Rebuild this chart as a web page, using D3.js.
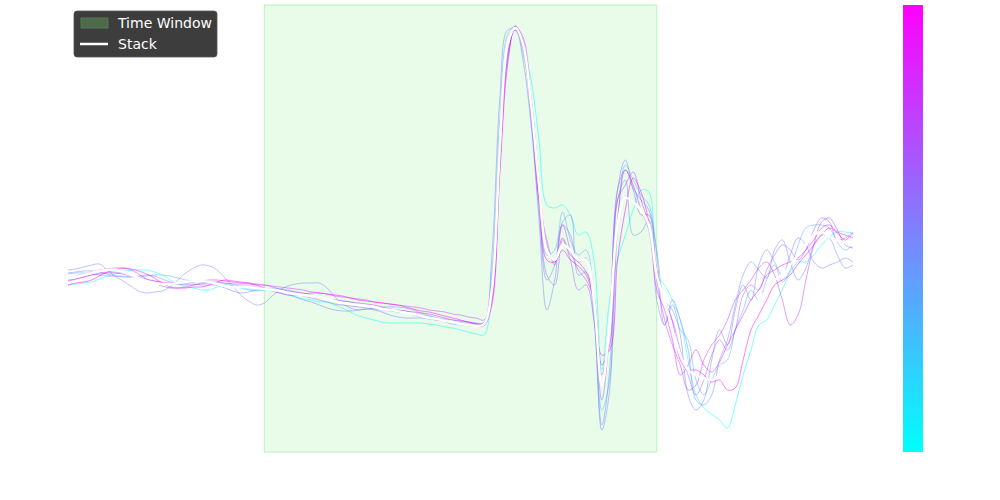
<!DOCTYPE html>
<html>
<head>
<meta charset="utf-8">
<script src="https://cdn.jsdelivr.net/npm/d3@7"></script>
<style>
  body { margin: 0; background: #fff; }
  svg { display: block; font-family: "DejaVu Sans", sans-serif; }
</style>
</head>
<body>
<div id="chart-wrapper"></div>
<script>
// sample index (time) axis
const times = d3.range(0, 101);

// time window limits
const windowStart = 25;
const windowEnd = 75;

// colour value (0..1 on the cool map) of each trace
const traceColorVals = [0, 0.3, 0.45, 0.5, 0.6, 0.75, 0.85, 1.0];

const traceA = [-0.05,-0.04,-0.03,-0.02,0.01,0.04,0.06,0.08,0.10,0.10,0.10,0.08,0.05,0.00,-0.04,-0.07,-0.08,-0.10,-0.10,-0.07,-0.04,-0.04,-0.07,-0.09,-0.10,-0.10,-0.11,-0.13,-0.15,-0.17,-0.19,-0.20,-0.22,-0.22,-0.25,-0.28,-0.32,-0.36,-0.38,-0.40,-0.42,-0.43,-0.43,-0.43,-0.43,-0.43,-0.44,-0.45,-0.47,-0.48,-0.50,-0.52,-0.54,-0.55,-0.10,1.35,2.22,2.53,2.32,2.00,1.40,0.75,0.72,0.75,0.65,0.45,0.48,0.20,-0.90,-0.20,0.20,0.45,0.70,0.90,0.88,0.05,-0.05,-0.20,-0.40,-0.80,-1.15,-1.28,-1.34,-1.40,-1.48,-1.25,-0.95,-0.70,-0.45,-0.40,-0.25,-0.10,0.08,0.18,0.18,0.25,0.35,0.43,0.48,0.48,0.47];
const traceB = [0.06,0.07,0.07,0.06,0.05,0.04,0.04,0.04,0.03,0.03,0.04,0.05,0.05,0.04,0.02,0.00,-0.01,-0.02,-0.03,-0.03,-0.04,-0.06,-0.08,-0.10,-0.11,-0.10,-0.09,-0.09,-0.10,-0.12,-0.14,-0.16,-0.18,-0.19,-0.20,-0.21,-0.22,-0.24,-0.26,-0.28,-0.29,-0.30,-0.30,-0.31,-0.33,-0.35,-0.36,-0.38,-0.39,-0.40,-0.41,-0.42,-0.44,-0.42,0.10,1.60,2.45,2.54,2.25,1.80,1.00,0.25,0.30,0.68,0.40,0.25,0.30,-0.20,-1.30,-1.00,0.50,1.15,1.00,0.85,0.75,0.30,-0.20,-0.30,-0.50,-0.60,-1.00,-1.15,-1.00,-0.85,-0.80,-0.50,-0.30,-0.10,-0.20,0.00,0.15,-0.02,0.10,0.35,0.52,0.55,0.55,0.52,0.38,0.30,0.35];
const traceC = [0.10,0.11,0.13,0.15,0.16,0.10,0.04,-0.01,-0.06,-0.11,-0.13,-0.12,-0.11,-0.07,0.00,0.07,0.12,0.15,0.14,0.10,0.02,-0.06,-0.15,-0.21,-0.25,-0.23,-0.16,-0.10,-0.06,-0.04,-0.03,-0.03,-0.03,-0.08,-0.17,-0.24,-0.28,-0.30,-0.29,-0.28,-0.27,-0.27,-0.27,-0.28,-0.30,-0.33,-0.36,-0.38,-0.40,-0.42,-0.43,-0.43,-0.44,-0.44,0.00,1.40,2.35,2.50,2.30,1.60,0.60,-0.30,0.00,0.58,0.65,0.05,0.08,-0.40,-1.45,-0.90,0.80,1.00,0.45,0.48,0.60,-0.20,-0.45,-0.20,-0.40,-0.70,-1.20,-1.25,-1.15,-0.80,-0.60,-0.25,0.05,0.18,0.10,0.02,0.30,0.40,0.18,0.00,0.12,0.35,0.45,0.42,0.25,0.12,0.15];
const traceG = [0.07,0.08,0.09,0.09,0.08,0.06,0.04,0.03,0.03,0.04,0.05,0.04,0.01,-0.02,-0.04,-0.05,-0.05,-0.04,-0.03,-0.05,-0.08,-0.11,-0.13,-0.12,-0.10,-0.09,-0.10,-0.12,-0.14,-0.17,-0.20,-0.22,-0.25,-0.28,-0.30,-0.31,-0.31,-0.30,-0.29,-0.30,-0.32,-0.35,-0.37,-0.38,-0.38,-0.38,-0.39,-0.40,-0.42,-0.44,-0.45,-0.46,-0.46,-0.43,0.25,1.80,2.50,2.50,2.18,1.55,0.70,0.00,0.15,0.55,0.45,0.18,0.22,-0.30,-1.50,-1.10,0.90,1.20,0.92,0.80,0.70,0.25,-0.45,-0.25,-0.55,-1.15,-1.30,-1.20,-0.80,-0.50,-0.65,-0.30,-0.05,-0.20,0.15,0.30,0.18,0.05,0.25,0.42,0.35,0.18,0.12,0.15,0.18,0.22,0.18];
const traceD = [0.00,0.01,0.03,0.05,0.07,0.08,0.08,0.07,0.05,0.03,0.01,-0.01,-0.03,-0.04,-0.04,-0.04,-0.04,-0.05,-0.05,-0.05,-0.06,-0.06,-0.06,-0.06,-0.07,-0.08,-0.10,-0.11,-0.13,-0.14,-0.16,-0.18,-0.20,-0.22,-0.24,-0.25,-0.26,-0.27,-0.28,-0.29,-0.30,-0.31,-0.32,-0.33,-0.35,-0.37,-0.39,-0.40,-0.41,-0.42,-0.43,-0.45,-0.46,-0.46,-0.20,1.15,2.25,2.52,2.38,1.70,0.80,0.05,-0.05,0.40,0.20,-0.10,-0.05,-0.40,-1.20,-0.50,0.90,1.10,0.90,0.65,0.65,0.10,-0.20,-0.40,-0.70,-0.95,-1.15,-1.00,-0.75,-0.60,-0.70,-0.50,-0.15,-0.05,-0.10,0.10,0.25,0.35,0.30,0.20,0.30,0.50,0.62,0.58,0.40,0.42,0.48];
const traceE = [0.02,0.04,0.06,0.08,0.10,0.11,0.12,0.12,0.10,0.06,0.01,-0.03,-0.06,-0.08,-0.08,-0.07,-0.05,-0.03,-0.02,-0.02,-0.03,-0.04,-0.04,-0.04,-0.05,-0.05,-0.06,-0.07,-0.08,-0.09,-0.10,-0.12,-0.13,-0.14,-0.16,-0.17,-0.18,-0.19,-0.20,-0.22,-0.23,-0.24,-0.25,-0.26,-0.27,-0.28,-0.30,-0.31,-0.32,-0.34,-0.35,-0.37,-0.38,-0.40,-0.15,1.20,2.28,2.50,2.32,1.65,0.80,0.40,0.15,0.55,0.30,0.10,0.00,-0.20,-0.95,-0.40,0.80,0.95,1.08,0.80,0.55,0.00,-0.40,-0.65,-0.85,-1.10,-1.05,-0.80,-0.65,-0.55,-0.40,-0.20,-0.10,0.00,0.12,0.18,0.05,-0.20,-0.45,-0.35,0.00,0.35,0.58,0.62,0.50,0.35,0.32];
const traceH = [-0.01,0.01,0.03,0.05,0.06,0.07,0.07,0.06,0.04,0.02,0.00,-0.01,-0.02,-0.03,-0.03,-0.03,-0.02,-0.01,0.00,0.00,-0.01,-0.02,-0.03,-0.03,-0.04,-0.05,-0.07,-0.09,-0.11,-0.12,-0.13,-0.15,-0.17,-0.19,-0.20,-0.21,-0.22,-0.23,-0.24,-0.25,-0.27,-0.29,-0.30,-0.31,-0.32,-0.33,-0.34,-0.36,-0.38,-0.40,-0.41,-0.42,-0.43,-0.43,-0.20,1.10,2.20,2.53,2.42,1.82,1.00,0.35,0.18,0.42,0.25,0.18,0.08,-0.15,-0.85,-0.65,0.60,1.10,0.95,0.70,0.50,-0.10,-0.30,-0.60,-0.95,-0.85,-0.70,-0.85,-0.92,-0.82,-0.65,-0.50,-0.35,-0.20,-0.10,0.05,0.10,0.15,0.18,0.22,0.30,0.40,0.52,0.55,0.48,0.45,0.42];
const traceF = [-0.05,-0.03,-0.02,0.00,0.04,0.08,0.10,0.12,0.11,0.09,0.06,0.02,-0.03,-0.07,-0.08,-0.08,-0.07,-0.07,-0.05,-0.02,0.00,-0.01,-0.02,-0.03,-0.05,-0.08,-0.11,-0.13,-0.15,-0.15,-0.14,-0.13,-0.13,-0.14,-0.15,-0.16,-0.18,-0.20,-0.21,-0.22,-0.23,-0.24,-0.25,-0.27,-0.29,-0.31,-0.32,-0.34,-0.36,-0.38,-0.40,-0.42,-0.44,-0.45,-0.25,1.05,2.15,2.54,2.38,1.75,0.80,0.20,0.18,0.30,0.20,0.14,0.05,-0.20,-0.75,-0.70,0.20,0.70,1.02,0.88,0.58,0.10,-0.20,-0.42,-0.80,-0.90,-0.90,-0.95,-1.02,-1.00,-1.10,-1.08,-0.80,-0.50,-0.35,-0.20,-0.05,0.00,0.05,0.16,0.25,0.35,0.45,0.52,0.47,0.40,0.47];

// averaged stack trace
const stack = [0.02,0.03,0.05,0.07,0.09,0.10,0.10,0.08,0.05,0.02,-0.01,-0.03,-0.04,-0.04,-0.03,-0.02,-0.01,-0.01,-0.02,-0.04,-0.06,-0.07,-0.07,-0.07,-0.08,-0.09,-0.10,-0.11,-0.13,-0.14,-0.15,-0.16,-0.17,-0.19,-0.21,-0.23,-0.24,-0.25,-0.26,-0.27,-0.29,-0.30,-0.31,-0.33,-0.34,-0.36,-0.38,-0.39,-0.41,-0.42,-0.44,-0.45,-0.46,-0.44,-0.10,1.30,2.35,2.52,2.35,1.75,0.95,0.30,0.20,0.35,0.30,0.20,0.20,-0.20,-1.05,-0.45,0.55,0.82,0.78,0.70,0.55,0.05,-0.20,-0.50,-0.75,-0.90,-0.95,-0.98,-1.00,-0.95,-0.85,-0.65,-0.50,-0.30,-0.20,-0.10,0.00,0.05,0.15,0.25,0.35,0.45,0.48,0.43,0.40,0.37,0.35];

const traces = [traceA, traceB, traceC, traceG, traceD, traceE, traceH, traceF];

const legendLabels = ["Time Window", "Stack"];

const initChart = () => {
  const width = 1000, height = 500;
  const plot = { left: 68, right: 853, top: 5, bottom: 452 };

  const svg = d3.select("#chart-wrapper").append("svg")
    .attr("width", width)
    .attr("height", height);

  const xScale = d3.scaleLinear()
    .domain([0, 100])
    .range([plot.left, plot.right]);

  const yScale = d3.scaleLinear()
    .domain([-1.72, 2.75])
    .range([plot.bottom, plot.top]);

  const cool = d3.interpolateRgb("#00ffff", "#ff00ff");

  // time window patch
  svg.append("rect")
    .attr("x", xScale(windowStart))
    .attr("y", plot.top)
    .attr("width", xScale(windowEnd) - xScale(windowStart))
    .attr("height", plot.bottom - plot.top)
    .attr("fill", "lightgreen")
    .attr("fill-opacity", 0.2)
    .attr("stroke", "lightgreen")
    .attr("stroke-opacity", 0.6)
    .attr("stroke-width", 1);

  const line = d3.line()
    .x((d, i) => xScale(times[i]))
    .y(d => yScale(d))
    .curve(d3.curveCatmullRom.alpha(0.5));

  svg.append("g")
    .selectAll("path")
    .data(traces)
    .enter()
    .append("path")
    .attr("d", d => line(d))
    .attr("fill", "none")
    .attr("stroke", (d, i) => cool(traceColorVals[i]))
    .attr("stroke-opacity", 0.5)
    .attr("stroke-width", 1);

  svg.append("path")
    .attr("d", line(stack))
    .attr("fill", "none")
    .attr("stroke", "#fff")
    .attr("stroke-width", 2.5);

  // colorbar
  const defs = svg.append("defs");
  const grad = defs.append("linearGradient")
    .attr("id", "cbar")
    .attr("x1", 0).attr("y1", 1).attr("x2", 0).attr("y2", 0);
  grad.append("stop").attr("offset", "0%").attr("stop-color", cool(0));
  grad.append("stop").attr("offset", "100%").attr("stop-color", cool(1));

  svg.append("rect")
    .attr("x", 903)
    .attr("y", plot.top)
    .attr("width", 20)
    .attr("height", plot.bottom - plot.top)
    .attr("fill", "url(#cbar)");

  // legend
  const legend = svg.append("g").attr("transform", "translate(74,11)");
  legend.append("rect")
    .attr("width", 143)
    .attr("height", 46)
    .attr("rx", 3)
    .attr("fill", "#333333")
    .attr("fill-opacity", 0.95)
    .attr("stroke", "#555")
    .attr("stroke-width", 0.8);

  legend.append("rect")
    .attr("x", 7).attr("y", 7)
    .attr("width", 27).attr("height", 10)
    .attr("fill", "#4a6a4a")
    .attr("stroke", "#5a7f5a")
    .attr("stroke-width", 0.8);

  legend.append("line")
    .attr("x1", 6).attr("x2", 34)
    .attr("y1", 33).attr("y2", 33)
    .attr("stroke", "#fff")
    .attr("stroke-width", 2.5);

  legend.selectAll("text")
    .data(legendLabels)
    .enter()
    .append("text")
    .attr("x", 44)
    .attr("y", (d, i) => 17 + i * 21)
    .attr("fill", "#fff")
    .attr("font-size", 14)
    .text(d => d);
}

window.onload = () => {
  initChart();
}
</script>
</body>
</html>
